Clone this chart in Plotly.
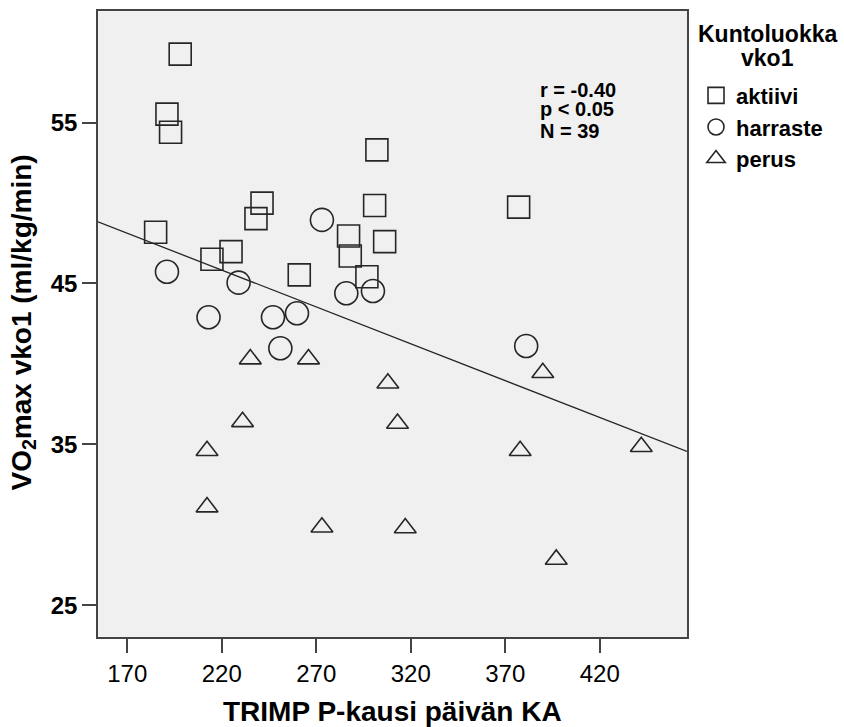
import numpy as np
import plotly.graph_objects as go

# ---------------- data ----------------
group_names = ["aktiivi", "harraste", "perus"]

aktiivi_x = [198.0, 191.0, 192.9, 185.0, 214.8, 224.9, 241.3, 238.1, 261.0,
             302.1, 300.9, 287.1, 288.0, 306.2, 296.8, 377.1]
aktiivi_y = [59.25, 55.52, 54.40, 48.18, 46.50, 46.98, 49.99, 49.03, 45.53,
             53.30, 49.84, 47.95, 46.71, 47.60, 45.42, 49.74]

harraste_x = [191.0, 228.9, 213.0, 247.1, 259.8, 273.0, 251.0, 285.9, 300.0, 381.1]
harraste_y = [45.73, 45.05, 42.90, 42.90, 43.15, 48.95, 40.97, 44.39, 44.53, 41.11]

perus_x = [235.1, 265.9, 231.0, 212.2, 212.2, 273.0, 307.9, 313.0, 317.1,
           389.9, 377.9, 442.0, 397.0]
perus_y = [40.30, 40.30, 36.40, 34.60, 31.10, 29.85, 38.80, 36.30, 29.80,
           39.45, 34.60, 34.85, 27.85]

x_tick_vals = [170, 220, 270, 320, 370, 420]
y_tick_vals = [25, 35, 45, 55]
x_range = [154.5, 466.2]
y_range = [23.03, 61.93]

stats_lines = ["r = -0.40", "p < 0.05", "N = 39"]
x_title = "TRIMP P-kausi päivän KA"
y_title = "VO<sub>2</sub>max vko1 (ml/kg/min)"
legend_title_lines = ["Kuntoluokka", "vko1"]

# ---------------- figure ----------------
FONT = "Liberation Sans, Arial, sans-serif"
INK = "#262626"

fig = go.Figure()

series = [
    (group_names[0], aktiivi_x, aktiivi_y, "square-open", 22),
    (group_names[1], harraste_x, harraste_y, "circle-open", 23),
    (group_names[2], perus_x, perus_y, "triangle-up-open", 19),
]
for name, xs, ys, sym, size in series:
    fig.add_trace(go.Scatter(
        x=xs, y=ys, mode="markers", name=name,
        marker=dict(symbol=sym, size=size, color=INK,
                    line=dict(width=1.6, color=INK)),
    ))

# linear fit over all points
all_x = np.array(aktiivi_x + harraste_x + perus_x)
all_y = np.array(aktiivi_y + harraste_y + perus_y)
slope, intercept = np.polyfit(all_x, all_y, 1)
fit_x = np.array(x_range)
fit_y = intercept + slope * fit_x
fig.add_trace(go.Scatter(
    x=fit_x, y=fit_y, mode="lines", showlegend=False,
    line=dict(color=INK, width=1.3), hoverinfo="skip",
))

axis_common = dict(
    showline=True, mirror=True, linecolor="#444444", linewidth=1.5,
    ticks="outside", ticklen=14, tickwidth=1.5, tickcolor="#444444",
    showgrid=False, zeroline=False,
)

fig.update_layout(
    width=844, height=727,
    margin=dict(l=98, r=157, t=11, b=90, autoexpand=False),
    paper_bgcolor="white",
    plot_bgcolor="#F0F0F0",
    font=dict(family=FONT, color="black"),
    xaxis=dict(range=x_range, tickvals=x_tick_vals,
               tickfont=dict(size=24, family=FONT, color="black"),
               **axis_common),
    yaxis=dict(range=y_range, tickvals=y_tick_vals,
               tickfont=dict(size=24, family=FONT, color="black", weight="bold"),
               **axis_common),
    legend=dict(
        x=1.0153, xanchor="left", y=0.8985, yanchor="top",
        bgcolor="rgba(0,0,0,0)",
        font=dict(size=22, family=FONT, color="black", weight="bold"),
        itemclick=False, itemdoubleclick=False,
    ),
    showlegend=True,
)

annotations = [
    dict(text=x_title, xref="paper", yref="paper", x=0.5, y=-0.1198,
         xanchor="center", yanchor="middle", showarrow=False,
         font=dict(size=28, family=FONT, color="black", weight="bold")),
    dict(text=y_title, xref="paper", yref="paper", x=-0.1273, y=0.5024,
         xanchor="center", yanchor="middle", showarrow=False, textangle=-90,
         font=dict(size=28, family=FONT, color="black", weight="bold")),
]
for txt, yy in zip(legend_title_lines, [0.9635, 0.925]):
    annotations.append(dict(
        text=txt, xref="paper", yref="paper", x=1.1367, y=yy,
        xanchor="center", yanchor="middle", showarrow=False,
        font=dict(size=23, family=FONT, color="black", weight="bold")))
stat_y = [0.874, 0.8435, 0.8083]
for txt, yy in zip(stats_lines, stat_y):
    annotations.append(dict(
        text=txt, xref="paper", yref="paper", x=0.747, y=yy,
        xanchor="left", yanchor="middle", showarrow=False,
        font=dict(size=20, family=FONT, color="black", weight="bold")))
fig.update_layout(annotations=annotations)

fig.write_html("out.html")
